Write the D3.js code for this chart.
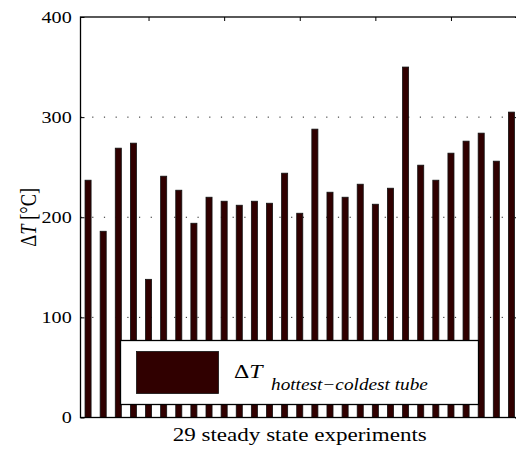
<!DOCTYPE html>
<html>
<head>
<meta charset="utf-8">
<script src="https://cdn.jsdelivr.net/npm/d3@7"></script>
<style>
body { margin: 0; background: #fff; }
svg { display: block; }
svg text { font-family: "Liberation Serif", "Times New Roman", serif; fill: #000; }
</style>
</head>
<body>
<svg id="chart" width="516" height="449"></svg>
<script>
// one bar per steady state experiment
const experiments = d3.range(1, 30);
const deltaT = [237, 186, 269, 274, 138, 241, 227, 194, 220, 216, 212, 216, 214, 244,
  204, 288, 225, 220, 233, 213, 229, 350, 252, 237, 264, 276, 284, 256, 305];
const yTicks = [0, 100, 200, 300, 400];
const gridValues = [100, 200, 300];
const topTicks = [5, 10, 15, 20, 25];

const axL = 80.5, axR = 519, axT = 17, axB = 417.5;
const barColor = "#300000";
const stretch = 1.22; // the original figure is a bit wider than tall, text included

const svg = d3.select("#chart");

const x = d3.scaleLinear().domain([0.5, 29.5]).range([axL, axR]);
const y = d3.scaleLinear().domain([0, 400]).range([axB, axT]);
const barW = (x(2) - x(1)) * 0.4;

// dotted grid, behind the bars
svg.append("g")
  .selectAll("line")
  .data(gridValues)
  .join("line")
  .attr("x1", axL)
  .attr("x2", axR)
  .attr("y1", d => y(d))
  .attr("y2", d => y(d))
  .attr("stroke", "#222")
  .attr("stroke-width", 1)
  .attr("stroke-dasharray", "1.2,10.5");

// bars
svg.append("g")
  .selectAll("rect")
  .data(experiments)
  .join("rect")
  .attr("x", d => x(d) - barW / 2)
  .attr("width", barW)
  .attr("y", (d, i) => y(deltaT[i]))
  .attr("height", (d, i) => y(0) - y(deltaT[i]))
  .attr("fill", barColor)
  .attr("stroke", "#111")
  .attr("stroke-width", 0.8);

// y axis
const yAxis = d3.axisLeft(y).tickValues(yTicks).tickSize(-4).tickFormat(d3.format("d"));
const gy = svg.append("g").attr("transform", `translate(${axL},0)`).call(yAxis);
gy.select(".domain").remove();
gy.selectAll("line").attr("stroke", "#000");
gy.selectAll("text")
  .attr("x", -8.8 / stretch)
  .attr("transform", `scale(${stretch},1)`)
  .attr("font-size", 16.5)
  .attr("fill", "#000");

// right side ticks
const gyr = svg.append("g").attr("transform", `translate(${axR},0)`)
  .call(d3.axisRight(y).tickValues(yTicks).tickSize(-4).tickFormat(""));
gyr.select(".domain").remove();
gyr.selectAll("line").attr("stroke", "#000");

// top ticks
const gx = svg.append("g").attr("transform", `translate(0,${axT})`)
  .call(d3.axisTop(x).tickValues(topTicks).tickSize(-4).tickFormat(""));
gx.select(".domain").remove();
gx.selectAll("line").attr("stroke", "#000");

// axes box
svg.append("rect")
  .attr("x", axL).attr("y", axT)
  .attr("width", axR - axL).attr("height", axB - axT)
  .attr("fill", "none").attr("stroke", "#000").attr("stroke-width", 1.3);

// axis labels
svg.append("text")
  .attr("transform", `translate(${(axL + axR) / 2},440.7) scale(${stretch},1)`)
  .attr("text-anchor", "middle")
  .attr("font-size", 18.9)
  .text("29 steady state experiments");

const yl = svg.append("text")
  .attr("transform", `translate(36,${(axT + axB) / 2}) rotate(-90) scale(1,${stretch})`)
  .attr("text-anchor", "middle")
  .attr("font-size", 18.5);
yl.append("tspan").text("\u0394");
yl.append("tspan").attr("font-style", "italic").text("T");
yl.append("tspan").text(" [\u00B0C]");

// legend
const lg = svg.append("g");
lg.append("rect")
  .attr("x", 120.5).attr("y", 340.5)
  .attr("width", 358).attr("height", 64)
  .attr("fill", "#fff").attr("stroke", "#000").attr("stroke-width", 1.3);
lg.append("rect")
  .attr("x", 136.5).attr("y", 351.5)
  .attr("width", 82).attr("height", 42)
  .attr("fill", barColor).attr("stroke", "#111").attr("stroke-width", 0.8);
const lt = lg.append("text")
  .attr("transform", `translate(234,378) scale(${stretch},1)`)
  .attr("font-size", 19.5);
lt.append("tspan").text("\u0394");
lt.append("tspan").attr("font-style", "italic").text("T");
lg.append("text")
  .attr("transform", `translate(271,390) scale(${stretch},1)`)
  .attr("font-size", 15.8)
  .attr("font-style", "italic")
  .text("hottest\u2212coldest tube");
</script>
</body>
</html>
